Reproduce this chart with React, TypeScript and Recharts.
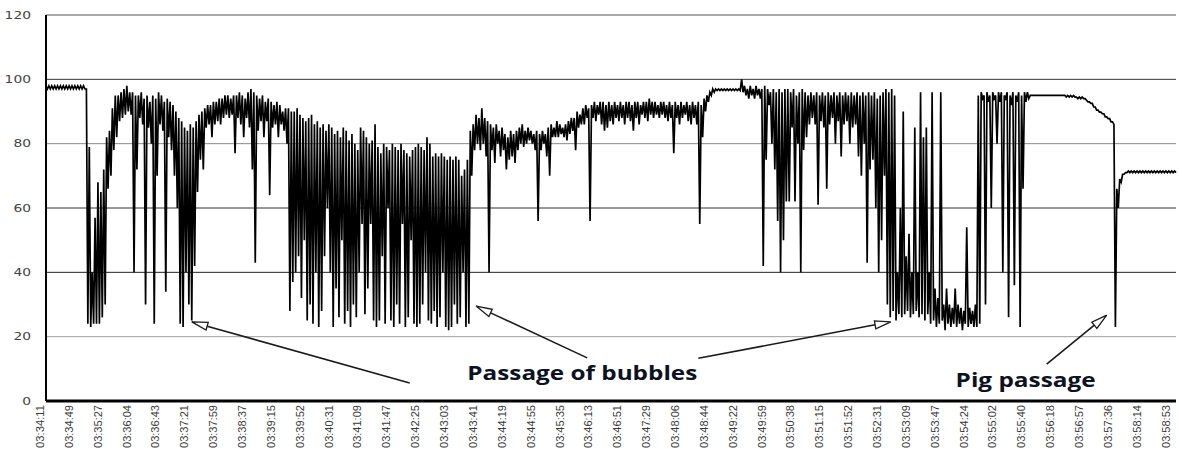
import React from "react";
import { LineChart, Line, XAxis, YAxis, ReferenceLine, ReferenceDot } from "recharts";

// time stamps on the category axis (one every ~38 s)
const timeLabels = [
  "03:34:11", "03:34:49", "03:35:27", "03:36:04", "03:36:43", "03:37:21", "03:37:59", "03:38:37",
  "03:39:15", "03:39:52", "03:40:31", "03:41:09", "03:41:47", "03:42:25", "03:43:03", "03:43:41",
  "03:44:19", "03:44:55", "03:45:35", "03:46:13", "03:46:51", "03:47:29", "03:48:06", "03:48:44",
  "03:49:22", "03:49:59", "03:50:38", "03:51:15", "03:51:52", "03:52:31", "03:53:09", "03:53:47",
  "03:54:24", "03:55:02", "03:55:40", "03:56:18", "03:56:57", "03:57:36", "03:58:14", "03:58:53",
];

const yTicks = [0, 20, 40, 60, 80, 100, 120];

// signal, one column every 0.1 label interval:
// upper = top of the trace in that column, lower = bottom of the trace
const upper = [
  98, 98, 98, 98, 98, 98, 98, 98, 98, 98,
  98, 98, 98, 98, 97, 79, 40, 57, 68, 65,
  72, 82, 84, 91, 95, 95, 96, 97, 98, 96,
  96, 95, 95, 96, 94, 95, 93, 95, 94, 96,
  95, 93, 94, 93, 92, 90, 88, 87, 85, 84,
  86, 85, 87, 89, 90, 91, 92, 92, 93, 93,
  94, 94, 95, 95, 94, 95, 95, 96, 95, 94,
  96, 97, 96, 95, 94, 95, 93, 94, 93, 92,
  93, 92, 90, 91, 91, 90, 90, 91, 89, 88,
  87, 88, 89, 86, 87, 85, 86, 84, 86, 85,
  83, 84, 82, 85, 84, 81, 83, 80, 78, 85,
  84, 82, 80, 81, 86, 79, 77, 80, 79, 78,
  80, 79, 78, 80, 78, 77, 76, 78, 79, 80,
  79, 78, 82, 80, 76, 77, 76, 77, 76, 75,
  76, 75, 76, 75, 70, 72, 75, 84, 86, 89,
  88, 91, 88, 87, 86, 85, 86, 84, 85, 83,
  82, 84, 83, 84, 85, 86, 84, 85, 84, 83,
  84, 83, 84, 83, 85, 86, 85, 87, 86, 85,
  86, 87, 88, 88, 90, 89, 91, 92, 91, 92,
  93, 92, 93, 93, 92, 93, 92, 93, 92, 93,
  92, 93, 93, 92, 93, 93, 92, 93, 93, 94,
  93, 93, 92, 93, 93, 92, 93, 92, 93, 92,
  93, 92, 93, 92, 93, 92, 93, 92, 94, 95,
  96, 97, 97, 97, 97, 97, 97, 97, 97, 97,
  97, 100, 98, 97, 98, 97, 98, 97, 97, 98,
  97, 96, 97, 96, 97, 96, 97, 97, 96, 97,
  95, 96, 97, 96, 95, 96, 95, 96, 95, 96,
  95, 96, 95, 96, 95, 96, 95, 96, 95, 96,
  95, 96, 95, 96, 95, 96, 95, 96, 94, 95,
  96, 97, 96, 97, 95, 40, 60, 90, 45, 52,
  40, 85, 40, 96, 82, 85, 40, 96, 35, 32,
  96, 30, 35, 30, 29, 35, 30, 29, 28, 54,
  29, 28, 30, 95, 96, 95, 96, 95, 96, 95,
  96, 96, 95, 96, 95, 96, 95, 96, 95, 96,
  96, 95, 95, 95, 95, 95, 95, 95, 95, 95,
  95, 95, 95, 95, 95, 95, 95, 94.5, 94.5, 94.5,
  94, 93, 92.5, 91.4, 90.4, 89.8, 89.3, 88.3, 87.8, 86.8,
  86, 66, 69, 70.5, 71, 71.5, 71.5, 71.5, 71.5, 71.5,
  71.5, 71.5, 71.5, 71.5, 71.5, 71.5, 71.5, 71.5, 71.5, 71.5,
  71.5, 71.5,
];

const lower = [
  97, 97, 97, 97, 97, 97, 97, 97, 97, 97,
  97, 97, 97, 97, 24, 23, 24, 24, 24, 26,
  30, 66, 70, 78, 82, 87, 88, 89, 90, 89,
  40, 72, 88, 86, 30, 85, 80, 24, 70, 86,
  84, 34, 82, 78, 70, 60, 24, 23, 40, 30,
  25, 42, 65, 75, 72, 85, 86, 82, 86, 87,
  86, 88, 89, 88, 89, 77, 88, 86, 82, 88,
  85, 72, 43, 84, 87, 82, 87, 64, 85, 86,
  82, 86, 84, 80, 28, 37, 40, 45, 32, 50,
  25, 30, 24, 40, 23, 28, 45, 60, 40, 23,
  35, 26, 50, 24, 28, 23, 30, 26, 40, 55,
  27, 35, 55, 25, 23, 25, 45, 24, 60, 25,
  23, 30, 24, 55, 23, 26, 50, 24, 23, 24,
  30, 40, 25, 24, 28, 23, 26, 40, 23, 22,
  23, 30, 24, 26, 40, 23, 24, 70, 78, 80,
  78, 80, 76, 40, 78, 74, 80, 76, 78, 72,
  75, 76, 74, 78, 80, 79, 80, 81, 80, 78,
  56, 78, 80, 76, 70, 82, 82, 82, 83, 82,
  81, 83, 84, 78, 85, 86, 86, 88, 56, 88,
  87, 89, 86, 84, 85, 87, 86, 88, 87, 88,
  86, 88, 87, 84, 88, 86, 89, 88, 87, 89,
  88, 89, 88, 89, 88, 87, 88, 77, 88, 86,
  88, 89, 87, 86, 88, 86, 55, 82, 90, 93,
  95, 96, 96.5, 96.5, 96.5, 96.5, 96.5, 96.5, 96.5, 96.5,
  96.5, 96, 95, 94, 95, 94, 95, 94, 42, 75,
  92, 80, 72, 56, 40, 50, 62, 62, 85, 62,
  80, 40, 78, 82, 86, 88, 86, 61, 87, 85,
  66, 86, 88, 80, 87, 76, 86, 87, 80, 85,
  86, 76, 70, 80, 43, 72, 75, 60, 40, 50,
  70, 30, 26, 28, 25, 27, 26, 27, 28, 26,
  27, 28, 26, 27, 25, 27, 24, 25, 23, 24,
  25, 22, 24, 23, 24, 23, 24, 22, 24, 23,
  24, 23, 23, 24, 94, 30, 93, 60, 94, 80,
  93, 40, 94, 26, 92, 36, 93, 23, 66, 93,
  94, 95, 95, 95, 95, 95, 95, 95, 95, 95,
  95, 95, 95, 94.5, 94.5, 94.5, 94.5, 94, 94, 94,
  93.5, 93, 92.5, 91.4, 90.4, 89.8, 89.3, 88.3, 87.8, 86.8,
  23, 60, 68, 70.5, 71, 71, 71, 71, 71, 71,
  71, 71, 71, 71, 71, 71, 71, 71, 71, 71,
  71, 71,
];

const STEP = 0.1;

const series = upper.flatMap((hi, i) => [
  { x: i * STEP, v: hi },
  { x: i * STEP + STEP / 2, v: lower[i] },
]);

// gridline shades (scanned original: some lines darker than others)
const gridShade: Record<number, string> = {
  20: "#a0a0a0",
  40: "#222",
  60: "#333",
  80: "#8a8a8a",
  100: "#333",
  120: "#555",
};

// annotation arrows in data units: [tail, head]
const arrows = [
  { from: { x: 12.6, y: 5.6 }, to: { x: 5.05, y: 24.6 } },
  { from: { x: 18.75, y: 13.4 }, to: { x: 14.9, y: 29.5 } },
  { from: { x: 22.6, y: 13.3 }, to: { x: 29.27, y: 24.6 } },
  { from: { x: 34.67, y: 11.5 }, to: { x: 36.75, y: 26.7 } },
];

const notes = [
  { x: 18.58, y: 6.5, text: "Passage of bubbles", width: 230 },
  { x: 33.94, y: 4.3, text: "Pig passage", width: 140 },
];

const ArrowShape = (p: any) => {
  const { x1, y1, x2, y2 } = p;
  const ang = Math.atan2(y2 - y1, x2 - x1);
  const len = 16;
  const half = 4;
  const bx = x2 - len * Math.cos(ang);
  const by = y2 - len * Math.sin(ang);
  const nx = -Math.sin(ang) * half;
  const ny = Math.cos(ang) * half;
  return (
    <g>
      <line x1={x1} y1={y1} x2={bx} y2={by} stroke="#1a1a1a" strokeWidth={1.6} />
      <polygon
        points={`${x2},${y2} ${bx + nx},${by + ny} ${bx + nx * 0.3},${by + ny * 0.3} ${bx - nx},${by - ny}`}
        fill="#fff"
        stroke="#1a1a1a"
        strokeWidth={1.3}
      />
    </g>
  );
};

const TimeTick = (p: any) => {
  const { x, y, payload } = p;
  const tx = x - 6;
  const ty = y - 4;
  return (
    <text
      x={tx}
      y={ty}
      transform={`rotate(-90, ${tx}, ${ty})`}
      textAnchor="end"
      dominantBaseline="central"
      fontSize={11}
      fontFamily="Liberation Sans Narrow, Liberation Sans, Arial, sans-serif"
      fill="#3a3a3a"
      textLength={43}
      lengthAdjust="spacingAndGlyphs"
    >
      {timeLabels[payload.value]}
    </text>
  );
};

const ValueTick = (p: any) => {
  const { x, y, payload } = p;
  const label = String(payload.value);
  return (
    <text
      x={x - 7}
      y={y}
      textAnchor="end"
      dominantBaseline="central"
      fontSize={10}
      fontFamily="DejaVu Sans, sans-serif"
      fill="#444"
      textLength={label.length * 8.8}
      lengthAdjust="spacingAndGlyphs"
    >
      {label}
    </text>
  );
};

export default function App() {
  return (
    <div style={{ width: 1179, height: 450, background: "#fff" }}>
      <style>{`body{margin:0;background:#fff}`}</style>
      <LineChart
        width={1179}
        height={450}
        data={series}
        margin={{ top: 15, right: 3, bottom: 0, left: 0 }}
      >
        {yTicks
          .filter((t) => t > 0)
          .map((t) => (
            <ReferenceLine key={`g${t}`} y={t} stroke={gridShade[t]} strokeWidth={1} />
          ))}
        <XAxis
          type="number"
          dataKey="x"
          domain={[0, 39.1]}
          ticks={timeLabels.map((_, i) => i)}
          interval={0}
          height={49}
          tickLine={false}
          axisLine={{ stroke: "#000", strokeWidth: 3 }}
          tick={<TimeTick />}
        />
        <YAxis
          type="number"
          domain={[0, 120]}
          ticks={yTicks}
          width={46}
          tickLine={false}
          axisLine={{ stroke: "#000", strokeWidth: 2 }}
          tick={<ValueTick />}
        />
        <Line
          type="linear"
          dataKey="v"
          stroke="#000"
          strokeWidth={1.7}
          strokeLinejoin="miter"
          dot={false}
          isAnimationActive={false}
        />
        {arrows.map((a, i) => (
          <ReferenceLine
            key={`a${i}`}
            segment={[a.from, a.to]}
            shape={ArrowShape}
          />
        ))}
        {notes.map((n) => (
          <ReferenceDot
            key={n.text}
            x={n.x}
            y={n.y}
            r={0}
            shape={(p: any) => (
              <text
                x={p.cx}
                y={p.cy}
                textAnchor="middle"
                fontSize={19}
                fontWeight={700}
                fontFamily="Open Sans, Lato, sans-serif"
                fill="#0c1222"
                textLength={n.width}
                lengthAdjust="spacingAndGlyphs"
              >
                {n.text}
              </text>
            )}
          />
        ))}
      </LineChart>
    </div>
  );
}
